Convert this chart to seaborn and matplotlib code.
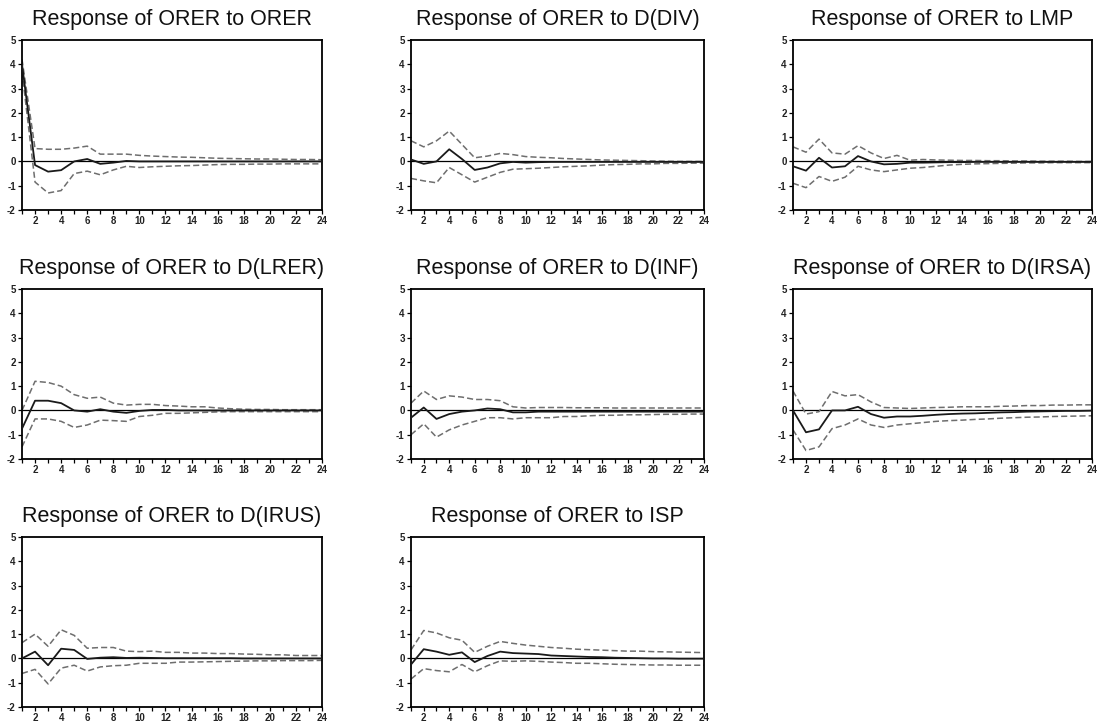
import numpy as np
import pandas as pd
import matplotlib
matplotlib.use("Agg")
import matplotlib.pyplot as plt
import seaborn as sns

sns.set_theme(style="white")
plt.rcParams['font.family'] = ['Liberation Sans', 'DejaVu Sans']
plt.rcParams['axes.unicode_minus'] = False

periods = list(range(1, 25))

titles = [
    "Response of ORER to ORER",
    "Response of ORER to D(DIV)",
    "Response of ORER to LMP",
    "Response of ORER to D(LRER)",
    "Response of ORER to D(INF)",
    "Response of ORER to D(IRSA)",
    "Response of ORER to D(IRUS)",
    "Response of ORER to ISP",
]

resp_orer = [4.0, -0.15, -0.42, -0.36, 0.0, 0.1, -0.1, -0.05, 0.02, 0.0, 0.0, 0.0,
             0.0, 0.0, 0.0, 0.0, 0.0, 0.0, 0.0, 0.0, 0.0, 0.0, 0.0, 0.0]
up_orer = [4.2, 0.53, 0.5, 0.5, 0.55, 0.63, 0.3, 0.3, 0.3, 0.25, 0.22, 0.2,
           0.18, 0.17, 0.15, 0.13, 0.12, 0.11, 0.1, 0.1, 0.09, 0.08, 0.08, 0.07]
lo_orer = [3.7, -0.85, -1.3, -1.2, -0.5, -0.4, -0.55, -0.35, -0.2, -0.25, -0.22, -0.2,
           -0.18, -0.17, -0.15, -0.13, -0.12, -0.12, -0.11, -0.11, -0.1, -0.1, -0.1, -0.1]

resp_div = [0.08, -0.1, 0.0, 0.5, 0.1, -0.35, -0.25, -0.08, -0.02, -0.05, -0.03, -0.02,
            -0.02, -0.02, -0.02, -0.02, -0.02, -0.02, -0.02, -0.02, -0.02, -0.02, -0.02, -0.02]
up_div = [0.85, 0.6, 0.85, 1.25, 0.7, 0.15, 0.22, 0.33, 0.28, 0.2, 0.17, 0.15,
          0.12, 0.1, 0.08, 0.06, 0.05, 0.04, 0.03, 0.02, 0.01, 0.0, 0.0, 0.0]
lo_div = [-0.7, -0.8, -0.88, -0.25, -0.55, -0.85, -0.65, -0.45, -0.32, -0.3, -0.28, -0.25,
          -0.22, -0.2, -0.18, -0.15, -0.13, -0.12, -0.1, -0.1, -0.08, -0.08, -0.07, -0.07]

resp_lmp = [-0.2, -0.38, 0.15, -0.25, -0.2, 0.22, 0.0, -0.12, -0.1, -0.05, -0.05, -0.04,
            -0.03, -0.03, -0.02, -0.02, -0.02, -0.02, -0.02, -0.02, -0.02, -0.02, -0.02, -0.02]
up_lmp = [0.6, 0.38, 0.92, 0.35, 0.3, 0.65, 0.35, 0.12, 0.25, 0.05, 0.08, 0.06,
          0.05, 0.04, 0.04, 0.03, 0.03, 0.02, 0.02, 0.01, 0.01, 0.01, 0.0, 0.0]
lo_lmp = [-0.9, -1.08, -0.62, -0.82, -0.65, -0.2, -0.35, -0.42, -0.35, -0.28, -0.25, -0.2,
          -0.15, -0.12, -0.1, -0.09, -0.08, -0.07, -0.06, -0.06, -0.05, -0.05, -0.05, -0.05]

resp_lrer = [-0.75, 0.4, 0.4, 0.3, 0.0, -0.05, 0.05, -0.05, -0.1, -0.02, 0.02, 0.02,
             0.0, 0.0, 0.0, 0.0, 0.0, 0.0, 0.0, 0.0, 0.0, 0.0, 0.0, 0.0]
up_lrer = [0.0, 1.2, 1.15, 1.0, 0.65, 0.5, 0.55, 0.3, 0.22, 0.25, 0.25, 0.2,
           0.18, 0.15, 0.15, 0.1, 0.07, 0.05, 0.04, 0.04, 0.03, 0.03, 0.03, 0.03]
lo_lrer = [-1.5, -0.35, -0.35, -0.45, -0.7, -0.6, -0.4, -0.42, -0.45, -0.25, -0.2, -0.12,
           -0.12, -0.1, -0.08, -0.06, -0.05, -0.05, -0.05, -0.05, -0.05, -0.05, -0.05, -0.05]

resp_inf = [-0.3, 0.12, -0.35, -0.15, -0.05, 0.0, 0.08, 0.05, -0.08, -0.08, -0.05, -0.05,
            -0.05, -0.05, -0.05, -0.05, -0.05, -0.05, -0.05, -0.05, -0.05, -0.05, -0.05, -0.05]
up_inf = [0.3, 0.8, 0.45, 0.6, 0.55, 0.45, 0.45, 0.4, 0.15, 0.1, 0.12, 0.12,
          0.12, 0.11, 0.11, 0.11, 0.1, 0.1, 0.1, 0.1, 0.1, 0.1, 0.1, 0.1]
lo_inf = [-1.0, -0.55, -1.1, -0.8, -0.6, -0.45, -0.3, -0.3, -0.35, -0.3, -0.3, -0.3,
          -0.25, -0.25, -0.22, -0.2, -0.2, -0.18, -0.18, -0.17, -0.16, -0.16, -0.15, -0.15]

resp_irsa = [0.0, -0.9, -0.78, 0.0, 0.0, 0.15, -0.15, -0.3, -0.25, -0.25, -0.22, -0.18,
             -0.15, -0.13, -0.12, -0.1, -0.08, -0.07, -0.05, -0.04, -0.03, -0.02, -0.02, -0.01]
up_irsa = [0.8, -0.15, -0.05, 0.78, 0.6, 0.65, 0.35, 0.12, 0.1, 0.08, 0.1, 0.12,
           0.13, 0.15, 0.15, 0.15, 0.17, 0.18, 0.2, 0.2, 0.22, 0.22, 0.23, 0.23]
lo_irsa = [-0.8, -1.65, -1.5, -0.75, -0.6, -0.35, -0.6, -0.7, -0.6, -0.55, -0.5, -0.45,
           -0.42, -0.4, -0.37, -0.35, -0.32, -0.3, -0.28, -0.27, -0.25, -0.24, -0.23, -0.22]

resp_irus = [0.0, 0.28, -0.28, 0.4, 0.35, -0.02, 0.03, 0.05, 0.02, 0.03, 0.02, 0.01,
             0.01, 0.01, 0.01, 0.01, 0.01, 0.0, 0.0, 0.0, 0.0, 0.0, 0.0, 0.0]
up_irus = [0.65, 1.0, 0.5, 1.18, 0.95, 0.42, 0.45, 0.45, 0.3, 0.28, 0.3, 0.25,
           0.25, 0.22, 0.22, 0.2, 0.2, 0.18, 0.17, 0.15, 0.15, 0.12, 0.12, 0.12]
lo_irus = [-0.62, -0.45, -1.05, -0.4, -0.28, -0.52, -0.35, -0.3, -0.28, -0.2, -0.2, -0.2,
           -0.15, -0.15, -0.14, -0.13, -0.12, -0.11, -0.1, -0.1, -0.09, -0.09, -0.09, -0.08]

resp_isp = [-0.25, 0.38, 0.28, 0.15, 0.25, -0.15, 0.1, 0.28, 0.22, 0.2, 0.18, 0.12,
            0.1, 0.08, 0.06, 0.05, 0.03, 0.02, 0.01, 0.0, 0.0, -0.01, -0.01, -0.01]
up_isp = [0.35, 1.15, 1.05, 0.85, 0.75, 0.25, 0.5, 0.7, 0.62, 0.55, 0.5, 0.45,
          0.42, 0.38, 0.36, 0.34, 0.32, 0.3, 0.3, 0.28, 0.27, 0.26, 0.25, 0.24]
lo_isp = [-0.85, -0.42, -0.5, -0.55, -0.25, -0.55, -0.3, -0.1, -0.12, -0.1, -0.12, -0.15,
          -0.17, -0.2, -0.2, -0.22, -0.24, -0.25, -0.26, -0.27, -0.27, -0.28, -0.28, -0.28]

panels = [
    (resp_orer, up_orer, lo_orer),
    (resp_div, up_div, lo_div),
    (resp_lmp, up_lmp, lo_lmp),
    (resp_lrer, up_lrer, lo_lrer),
    (resp_inf, up_inf, lo_inf),
    (resp_irsa, up_irsa, lo_irsa),
    (resp_irus, up_irus, lo_irus),
    (resp_isp, up_isp, lo_isp),
]

W, H = 1100, 724
fig = plt.figure(figsize=(W / 100, H / 100), dpi=100)

col_left = [22, 411, 793]
col_width = [300, 293, 299]
row_top = [40, 289, 537]
ax_h = 170

for i, (title, (resp, up, lo)) in enumerate(zip(titles, panels)):
    r, c = divmod(i, 3)
    L, T, Wd = col_left[c], row_top[r], col_width[c]
    ax = fig.add_axes([L / W, (H - T - ax_h) / H, Wd / W, ax_h / H])
    df = pd.DataFrame({"period": periods, "resp": resp, "up": up, "lo": lo})
    ax.axhline(0, color="black", lw=0.9, zorder=1)
    sns.lineplot(data=df, x="period", y="up", ax=ax, color="#6e6e6e", lw=1.1,
                 linestyle=(0, (4, 2)), zorder=2)
    sns.lineplot(data=df, x="period", y="lo", ax=ax, color="#6e6e6e", lw=1.1,
                 linestyle=(0, (4, 2)), zorder=2)
    sns.lineplot(data=df, x="period", y="resp", ax=ax, color="#1a1a1a", lw=1.3, zorder=3)
    ax.set_xlim(1, 24)
    ax.set_ylim(-2, 5)
    ax.set_xticks(range(1, 25))
    ax.set_xticklabels([str(p) if p % 2 == 0 else "" for p in periods])
    ax.set_yticks(range(-2, 6))
    ax.set_xlabel("")
    ax.set_ylabel("")
    ax.tick_params(axis="both", direction="out", length=3, width=0.9, labelsize=7,
                   pad=1.5, colors="black", bottom=True, left=True)
    for lab in ax.get_xticklabels() + ax.get_yticklabels():
        lab.set_fontweight("bold")
        lab.set_color("#222222")
    for s in ax.spines.values():
        s.set_color("black")
        s.set_linewidth(1.3)
    ax.set_title(title, fontsize=15.5, pad=10.5, color="#111111")

fig.savefig("out.png", dpi=100, facecolor="white")
